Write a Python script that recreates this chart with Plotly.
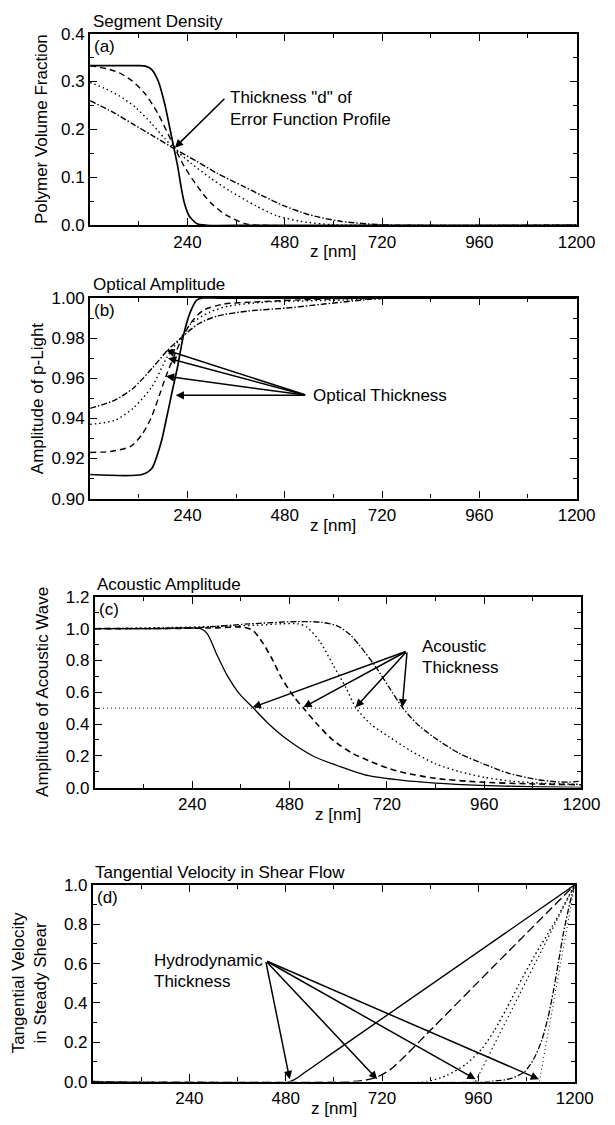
import plotly.graph_objects as go

W, H = 615, 1125
FONT = "Liberation Sans, Arial, Helvetica, sans-serif"
FS = 17

# ---------------- data ----------------
# x-axis ticks
x_ticks = [240, 480, 720, 960, 1200]

# (a) Segment density
a_solid_z = [0, 60, 120, 136, 152, 168, 184, 196, 206, 216, 224, 232, 244, 264, 288, 400, 1200]
a_solid = [0.333, 0.333, 0.333, 0.332, 0.325, 0.301, 0.253, 0.205, 0.164, 0.123, 0.082, 0.048, 0.020, 0.003, 0.0, 0.0, 0.0]
a_dash_z = [0, 40, 72, 104, 136, 168, 192, 209, 232, 264, 296, 336, 384, 424, 1200]
a_dash = [0.333, 0.327, 0.318, 0.301, 0.274, 0.232, 0.191, 0.161, 0.123, 0.082, 0.048, 0.021, 0.003, 0.0, 0.0]
a_dot_z = [0, 40, 72, 112, 152, 184, 209, 248, 296, 344, 408, 460, 520, 600, 700, 1200]
a_dot = [0.298, 0.284, 0.270, 0.246, 0.212, 0.181, 0.159, 0.130, 0.099, 0.072, 0.041, 0.020, 0.008, 0.001, 0.0, 0.0]
a_dd_z = [0, 56, 104, 152, 209, 264, 312, 376, 424, 480, 540, 620, 720, 800, 1200]
a_dd = [0.260, 0.236, 0.212, 0.188, 0.159, 0.133, 0.109, 0.082, 0.062, 0.040, 0.022, 0.008, 0.001, 0.0, 0.0]

# (b) Optical amplitude
b_solid_z = [0, 128, 152, 175, 191, 203, 215, 231, 247, 263, 279, 320, 1200]
b_solid = [0.912, 0.912, 0.915, 0.928, 0.9425, 0.954, 0.965, 0.982, 0.993, 0.999, 1.0, 1.0, 1.0]
b_dash_z = [0, 50, 100, 128, 150, 170, 187, 207, 227, 250, 280, 330, 400, 550, 700, 1200]
b_dash = [0.923, 0.9235, 0.926, 0.932, 0.940, 0.951, 0.961, 0.971, 0.980, 0.988, 0.994, 0.997, 0.998, 0.9993, 1.0, 1.0]
b_dot_z = [0, 60, 106, 153, 191, 219, 248, 295, 342, 436, 624, 750, 1200]
b_dot = [0.937, 0.939, 0.945, 0.956, 0.971, 0.979, 0.987, 0.993, 0.996, 0.998, 0.999, 1.0, 1.0]
b_dd_z = [0, 60, 106, 153, 191, 229, 266, 313, 389, 483, 577, 671, 740, 1200]
b_dd = [0.945, 0.949, 0.955, 0.965, 0.974, 0.981, 0.987, 0.991, 0.9935, 0.995, 0.997, 0.999, 1.0, 1.0]

# (c) Acoustic amplitude
c_solid_z = [0, 150, 261, 277, 301, 325, 357, 389, 428, 476, 540, 603, 675, 760, 840, 950, 1070, 1200]
c_solid = [1.0, 1.0, 1.0, 0.969, 0.835, 0.711, 0.588, 0.505, 0.402, 0.299, 0.196, 0.134, 0.075, 0.045, 0.028, 0.014, 0.006, 0.002]
c_dash_z = [0, 200, 300, 364, 389, 412, 436, 460, 492, 516, 547, 587, 635, 675, 720, 760, 840, 950, 1070, 1200]
c_dash = [1.0, 1.002, 1.005, 1.01, 0.99, 0.918, 0.814, 0.691, 0.567, 0.495, 0.402, 0.299, 0.216, 0.17, 0.125, 0.095, 0.058, 0.035, 0.024, 0.018]
c_dot_z = [0, 200, 400, 460, 500, 523, 555, 587, 619, 643, 680, 725, 780, 840, 900, 960, 1030, 1110, 1200]
c_dot = [1.0, 1.008, 1.022, 1.031, 1.031, 1.01, 0.918, 0.773, 0.629, 0.505, 0.40, 0.32, 0.23, 0.15, 0.10, 0.065, 0.04, 0.027, 0.02]
c_dd_z = [0, 240, 380, 500, 560, 600, 630, 651, 689, 726, 758, 794, 834, 898, 953, 1017, 1088, 1136, 1168, 1200]
c_dd = [1.0, 1.005, 1.03, 1.045, 1.04, 1.015, 0.96, 0.9, 0.773, 0.629, 0.505, 0.402, 0.32, 0.216, 0.155, 0.093, 0.052, 0.037, 0.035, 0.04]
c_half = 0.5

# (d) Tangential velocity
d_solid_z = [0, 490, 530, 600, 1200]
d_solid = [0.0, 0.0, 0.05, 0.15, 1.0]
d_dash_z = [0, 640, 680, 710, 740, 780, 832, 1000, 1200]
d_dash = [0.0, 0.0, 0.008, 0.025, 0.06, 0.135, 0.243, 0.59, 1.0]
d_dot_z = [0, 830, 880, 930, 970, 1000, 1030, 1060, 1100, 1150, 1200]
d_dot = [0.0, 0.0, 0.03, 0.09, 0.17, 0.26, 0.37, 0.49, 0.64, 0.81, 1.0]
d_dd_z = [0, 985, 1040, 1075, 1098, 1118, 1134, 1147, 1159, 1171, 1187, 1200]
d_dd = [0.0, 0.0, 0.015, 0.05, 0.115, 0.21, 0.33, 0.46, 0.60, 0.745, 0.90, 1.0]
d_ext_dot_z = [953, 1200]
d_ext_dot = [0.0, 1.0]
d_ext_dd_z = [1112, 1200]
d_ext_dd = [0.0, 1.0]

# arrow targets
a_arrow = dict(tip=(209, 0.162), tail=(335, 0.267))
b_tail = (534, 0.9515)
b_tips = [(188, 0.974), (192, 0.970), (187, 0.961), (211, 0.9515)]
c_tail = (770, 0.86)
c_tips = [(389, 0.505), (514, 0.505), (643, 0.505), (758, 0.505)]
d_tail = (430, 0.615)
d_tips = [(490, 0.012), (708, 0.012), (953, 0.012), (1111, 0.012)]

# ---------------- layout geometry (pixels) ----------------
panels = [
    # name, x0, x1, ytop, ybot
    ("a", 93, 595, 25, 220),
    ("b", 93, 595, 294, 498),
    ("c", 98, 600, 598, 792),
    ("d", 96, 593, 891, 1091),
]

def px_x(p):
    return p / W

def px_y(p):
    return 1 - p / H

DASH = "6px,4px"
DOT = "1.5px,3px"
DASHDOT = "6px,2px,1.5px,2px"

fig = go.Figure()

def add_line(ax, xs, ys, dash, width=1.3, shape="spline"):
    fig.add_trace(go.Scatter(
        x=xs, y=ys, mode="lines", xaxis="x" + ax, yaxis="y" + ax,
        line=dict(color="black", width=width, dash=dash, shape=shape, smoothing=0.7),
        hoverinfo="skip", showlegend=False))

# (a)
add_line("", a_solid_z, a_solid, "solid", 1.7)
add_line("", a_dash_z, a_dash, DASH, 1.4)
add_line("", a_dot_z, a_dot, DOT, 1.4)
add_line("", a_dd_z, a_dd, DASHDOT, 1.4)
# (b)
add_line("2", b_solid_z, b_solid, "solid", 1.7)
add_line("2", b_dash_z, b_dash, DASH, 1.4)
add_line("2", b_dot_z, b_dot, DOT, 1.4)
add_line("2", b_dd_z, b_dd, DASHDOT, 1.4)
# (c)
add_line("3", c_solid_z, c_solid, "solid", 1.3)
add_line("3", c_dash_z, c_dash, DASH, 1.6)
add_line("3", c_dot_z, c_dot, DOT, 1.4)
add_line("3", c_dd_z, c_dd, DASHDOT, 1.3)
add_line("3", [0, 1200], [c_half, c_half], "1px,3px", 1.0, "linear")
# (d)
add_line("4", d_solid_z, d_solid, "solid", 1.4)
add_line("4", d_dash_z, d_dash, "9px,4px", 1.3)
add_line("4", d_dot_z, d_dot, DOT, 1.4)
add_line("4", d_dd_z, d_dd, DASHDOT, 1.3)
add_line("4", d_ext_dot_z, d_ext_dot, DOT, 1.1, "linear")
add_line("4", d_ext_dd_z, d_ext_dd, "1px,3px", 1.0, "linear")

y_specs = {
    "a": dict(range=[0, 0.4], dtick=0.1, tickformat=".1f", minor=0.05),
    "b": dict(range=[0.9, 1.0], dtick=0.02, tickformat=".2f", minor=0.01),
    "c": dict(range=[0, 1.2], dtick=0.2, tickformat=".1f", minor=0.1),
    "d": dict(range=[0, 1.0], dtick=0.2, tickformat=".1f", minor=0.1),
}

common = dict(
    ticks="inside", ticklen=7, tickwidth=1.4, tickcolor="black",
    showline=True, linecolor="black", linewidth=2.2, mirror="ticks",
    showgrid=False, zeroline=False,
    tickfont=dict(family=FONT, size=FS, color="black"),
)

layout_axes = {}
for i, (name, x0, x1, yt, yb) in enumerate(panels):
    sfx = "" if i == 0 else str(i + 1)
    ys = y_specs[name]
    layout_axes["xaxis" + sfx] = dict(
        domain=[px_x(x0), px_x(x1)], range=[0, 1200], anchor="y" + sfx,
        tickmode="array", tickvals=x_ticks,
        minor=dict(ticks="inside", ticklen=4, tickwidth=1.2, tickcolor="black",
                   tickmode="linear", tick0=0, dtick=120, showgrid=False),
        **common)
    layout_axes["yaxis" + sfx] = dict(
        domain=[px_y(yb), px_y(yt)], range=ys["range"], anchor="x" + sfx,
        tickmode="linear", tick0=0, dtick=ys["dtick"], tickformat=ys["tickformat"],
        minor=dict(ticks="inside", ticklen=4, tickwidth=1.2, tickcolor="black",
                   tickmode="linear", tick0=0, dtick=ys["minor"], showgrid=False),
        **common)

fig.update_layout(
    width=W, height=H, margin=dict(l=0, r=0, t=0, b=0),
    paper_bgcolor="white", plot_bgcolor="white", showlegend=False,
    font=dict(family=FONT, size=FS, color="black"),
    **layout_axes)

ann = []

def text(x, y, s, xanchor="left", yanchor="middle", xref="paper", yref="paper", angle=0, size=FS, align="left"):
    ann.append(dict(x=x, y=y, xref=xref, yref=yref, text=s, showarrow=False,
                    xanchor=xanchor, yanchor=yanchor, textangle=angle, align=align,
                    font=dict(family=FONT, size=size, color="black")))

def arrow(ax_sfx, tip, tail):
    ann.append(dict(x=tip[0], y=tip[1], ax=tail[0], ay=tail[1],
                    xref="x" + ax_sfx, yref="y" + ax_sfx, axref="x" + ax_sfx, ayref="y" + ax_sfx,
                    text="", showarrow=True, arrowhead=2, arrowsize=1.1, arrowwidth=1.5,
                    arrowcolor="black", standoff=0, startstandoff=0))

titles = ["Segment Density", "Optical Amplitude", "Acoustic Amplitude", "Tangential Velocity in Shear Flow"]
title_pos = [(94, 13), (94, 280), (98, 585), (96, 878)]
ytitles = ["Polymer Volume Fraction", "Amplitude of p-Light", "Amplitude of Acoustic Wave",
           "Tangential Velocity<br>in Steady Shear"]
ytitle_x = [43, 38, 44, 30]
letters = ["(a)", "(b)", "(c)", "(d)"]

for i, (name, x0, x1, yt, yb) in enumerate(panels):
    sfx = "" if i == 0 else str(i + 1)
    text(px_x(title_pos[i][0]), px_y(title_pos[i][1]), titles[i])
    text(px_x(x0 + 2), px_y(yt + 1), letters[i], yanchor="top")
    text(px_x(ytitle_x[i]), px_y((yt + yb) / 2), ytitles[i], xanchor="center", angle=-90, align="center")
    text(600, px_y(yb + 27), "z [nm]", xanchor="center", xref="x" + sfx)

# (a) annotation
text(341, 0.290, 'Thickness "d" of<br>Error Function Profile', xref="x", yref="y", yanchor="top")
arrow("", a_arrow["tip"], a_arrow["tail"])
# (b)
for t in b_tips:
    arrow("2", t, b_tail)
text(544, b_tail[1], "Optical Thickness", xref="x2", yref="y2")
# (c)
for t in c_tips:
    arrow("3", t, c_tail)
text(802, 0.89, "Acoustic", xref="x3", yref="y3")
text(802, 0.755, "Thickness", xref="x3", yref="y3")
# (d)
for t in d_tips:
    arrow("4", t, d_tail)
text(147, 0.617, "Hydrodynamic", xref="x4", yref="y4")
text(147, 0.508, "Thickness", xref="x4", yref="y4")

fig.update_layout(annotations=ann)
fig.write_html("out.html")
